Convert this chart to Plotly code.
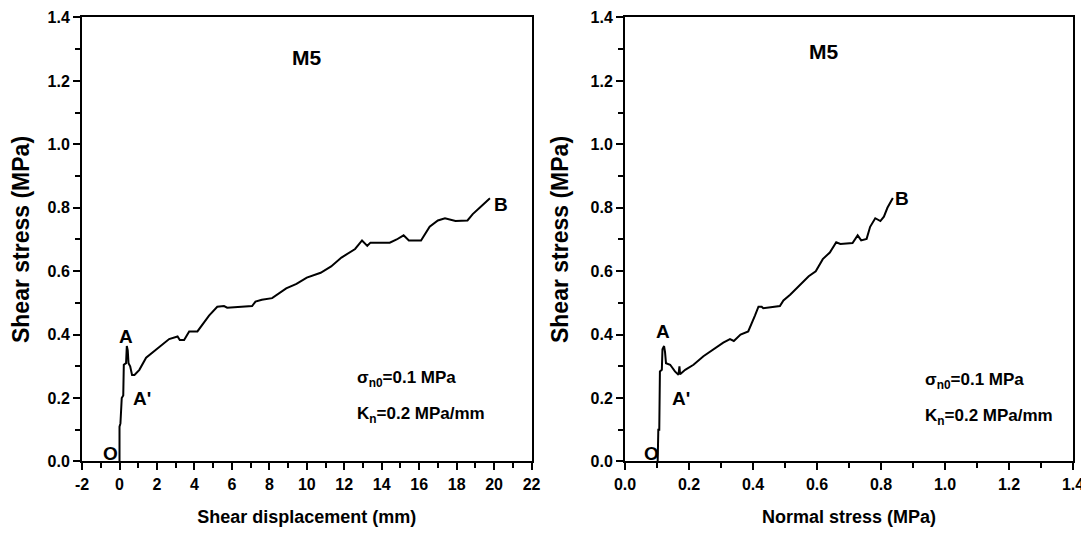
import plotly.graph_objects as go

# Left panel: shear displacement (mm) vs shear stress (MPa)
disp_mm = [0.0, 0.0, 0.05, 0.12, 0.2, 0.22, 0.23, 0.35, 0.39, 0.44, 0.48, 0.57, 0.67, 0.8, 1.06, 1.42, 1.77, 2.12, 2.65,
           3.1, 3.22, 3.45, 3.72, 4.16, 4.42, 4.78, 5.22, 5.58, 5.75, 7.08, 7.26, 7.6, 8.15, 8.9, 9.45, 10.0,
           10.74, 11.3, 11.85, 12.58, 12.95, 13.23, 13.4, 14.43, 14.8, 15.17, 15.45, 16.1, 16.56, 17.0,
           17.38, 17.94, 18.58, 18.86, 19.23, 19.78]
shear_left = [0.0, 0.11, 0.12, 0.2, 0.208, 0.305, 0.305, 0.31, 0.364, 0.35, 0.31, 0.30, 0.273, 0.273, 0.289, 0.327,
              0.343, 0.359, 0.386, 0.394, 0.383, 0.383, 0.41, 0.41, 0.43, 0.46, 0.488, 0.49, 0.485, 0.49,
              0.504, 0.51, 0.515, 0.546, 0.56, 0.58, 0.595, 0.615, 0.643, 0.67, 0.697, 0.68, 0.69, 0.69,
              0.70, 0.713, 0.697, 0.697, 0.74, 0.76, 0.767, 0.758, 0.76, 0.78, 0.80, 0.83]

# Right panel: normal stress (MPa) vs shear stress (MPa)
normal_mpa = [0.102, 0.104, 0.107, 0.109, 0.115, 0.117, 0.122, 0.125, 0.128, 0.141, 0.156, 0.167, 0.17, 0.172,
              0.188, 0.214, 0.245, 0.276, 0.307, 0.328, 0.34, 0.361, 0.385, 0.406, 0.417, 0.427, 0.432,
              0.484, 0.495, 0.516, 0.552, 0.574, 0.596, 0.618, 0.64, 0.66, 0.673, 0.711, 0.727, 0.738,
              0.755, 0.766, 0.782, 0.798, 0.809, 0.82, 0.837]
shear_right = [0.0, 0.1, 0.1, 0.284, 0.289, 0.354, 0.364, 0.345, 0.31, 0.305, 0.284, 0.273, 0.30, 0.275,
               0.289, 0.305, 0.332, 0.354, 0.375, 0.386, 0.38, 0.40, 0.41, 0.46, 0.488, 0.488, 0.483,
               0.49, 0.508, 0.526, 0.562, 0.584, 0.60, 0.638, 0.659, 0.691, 0.686, 0.689, 0.713, 0.697,
               0.702, 0.74, 0.767, 0.758, 0.772, 0.80, 0.831]

left_ticks = list(range(-2, 23, 2))
left_ticktext = [str(v) for v in left_ticks]
stress_ticks = [0.0, 0.2, 0.4, 0.6, 0.8, 1.0, 1.2, 1.4]
stress_ticktext = ["%.1f" % v for v in stress_ticks]

FONT = "Liberation Sans, Arial, sans-serif"

fig = go.Figure()
fig.add_trace(go.Scatter(x=disp_mm, y=shear_left, mode="lines",
                         line=dict(color="black", width=2), xaxis="x", yaxis="y", showlegend=False))
fig.add_trace(go.Scatter(x=normal_mpa, y=shear_right, mode="lines",
                         line=dict(color="black", width=2), xaxis="x2", yaxis="y2", showlegend=False))

fig.update_layout(
    template="none",
    width=1081, height=527, paper_bgcolor="white", plot_bgcolor="white",
    margin=dict(l=0, r=0, t=0, b=0),
    font=dict(family=FONT, color="black", size=16),
    xaxis=dict(domain=[0.0685, 0.4843], range=[-2, 22], tickmode="array",
               tickvals=left_ticks, ticktext=left_ticktext, anchor="y",
               title=dict(text="<b>Shear displacement (mm)</b>", font=dict(size=18), standoff=19)),
    yaxis=dict(domain=[0.1395, 0.982], range=[0, 1.4], tickmode="array",
               tickvals=stress_ticks, ticktext=stress_ticktext, anchor="x",
               title=dict(text="<b>Shear stress (MPa)</b>", font=dict(size=23), standoff=16)),
    xaxis2=dict(domain=[0.5708, 0.9852], range=[0, 1.4], tickmode="array",
                tickvals=stress_ticks, ticktext=stress_ticktext, anchor="y2",
                title=dict(text="<b>Normal stress (MPa)</b>", font=dict(size=18), standoff=19)),
    yaxis2=dict(domain=[0.1395, 0.982], range=[0, 1.4], tickmode="array",
                tickvals=stress_ticks, ticktext=stress_ticktext, anchor="x2",
                title=dict(text="<b>Shear stress (MPa)</b>", font=dict(size=23), standoff=16)),
)

fig.update_xaxes(showline=True, linecolor="black", linewidth=2, mirror=True, showgrid=False,
                 zeroline=False, ticks="outside", tickwidth=2, ticklen=7, tickcolor="black",
                 automargin=False, tickfont=dict(family=FONT, size=16, color="black", weight="bold"))
fig.update_yaxes(showline=True, linecolor="black", linewidth=2, mirror=True, showgrid=False,
                 zeroline=False, ticks="outside", tickwidth=2, ticklen=7, tickcolor="black",
                 automargin=False, tickfont=dict(family=FONT, size=16, color="black", weight="bold"))
fig.update_xaxes(minor=dict(dtick=1, tick0=-2, ticks="outside", ticklen=5, tickwidth=2, tickcolor="black"),
                 selector=dict(anchor="y"))
fig.update_xaxes(minor=dict(dtick=0.1, tick0=0, ticks="outside", ticklen=5, tickwidth=2, tickcolor="black"),
                 selector=dict(anchor="y2"))
fig.update_yaxes(minor=dict(dtick=0.1, tick0=0, ticks="outside", ticklen=5, tickwidth=2, tickcolor="black"))

def label(text, x, y, xr, yr, size=19, xanchor="center"):
    fig.add_annotation(text="<b>" + text + "</b>", x=x, y=y, xref=xr, yref=yr, showarrow=False,
                       xanchor=xanchor, yanchor="middle", font=dict(family=FONT, size=size, color="black"))

# Left panel labels
label("M5", 10.0, 1.273, "x", "y", size=21)
label("A", 0.36, 0.395, "x", "y")
label("A'", 1.18, 0.20, "x", "y")
label("O", -0.5, 0.026, "x", "y")
label("B", 20.35, 0.81, "x", "y")
label("σ<sub>n0</sub>=0.1 MPa", 12.6, 0.26, "x", "y", size=17, xanchor="left")
label("K<sub>n</sub>=0.2 MPa/mm", 12.6, 0.145, "x", "y", size=17, xanchor="left")

# Right panel labels
label("M5", 0.62, 1.294, "x2", "y2", size=21)
label("A", 0.12, 0.41, "x2", "y2")
label("A'", 0.175, 0.20, "x2", "y2")
label("O", 0.083, 0.026, "x2", "y2")
label("B", 0.866, 0.83, "x2", "y2")
label("σ<sub>n0</sub>=0.1 MPa", 0.93, 0.255, "x2", "y2", size=17, xanchor="left")
label("K<sub>n</sub>=0.2 MPa/mm", 0.93, 0.14, "x2", "y2", size=17, xanchor="left")

fig.write_html("out.html")
